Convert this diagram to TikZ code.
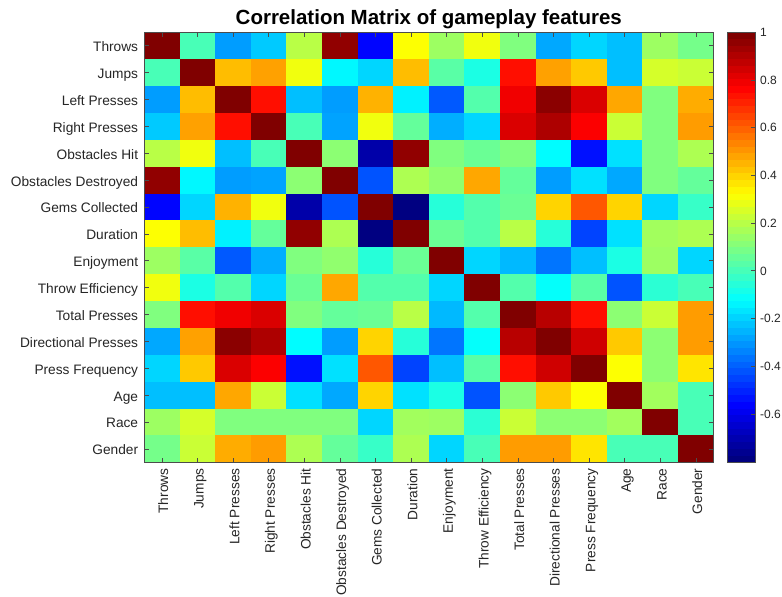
\documentclass[tikz,border=0pt]{standalone}
\usepackage{fontspec}
\setmainfont{Liberation Sans}

% jet colour map over the data range [-0.803, 1]
\newcommand\jetset[2]{%
  \pgfmathsetmacro\jt{max(0,min(1,(#1+0.803)/1.803))}%
  \pgfmathsetmacro\jr{max(0,min(1,min(4*\jt-1.5,4.5-4*\jt)))}%
  \pgfmathsetmacro\jg{max(0,min(1,min(4*\jt-0.5,3.5-4*\jt)))}%
  \pgfmathsetmacro\jb{max(0,min(1,min(4*\jt+0.5,2.5-4*\jt)))}%
  \definecolor{#2}{rgb}{\jr,\jg,\jb}}

\definecolor{labc}{gray}{0.15}
\definecolor{framec}{gray}{0.3}

\begin{document}
\begin{tikzpicture}[x=1pt,y=-1pt,
  ticklab/.style={text=labc,font=\fontsize{13.7}{16}\selectfont,inner sep=0pt},
  barlab/.style={text=labc,font=\fontsize{12}{14}\selectfont,inner sep=0pt,anchor=base west},
  tickmark/.style={draw=framec,line width=0.6pt},
  frame/.style={draw=framec,line width=0.7pt}]
\useasboundingbox (0,0) rectangle (782,597);
\fill[white] (0,0) rectangle (782,597);

\def\L{144}\def\T{32.3}\def\W{35.6}\def\H{26.875}
\def\R{713.6}\def\B{462.3}

% correlation cells
\foreach \rowvals [count=\i] in {
 {1,0.0,-0.3,-0.22,0.2,0.97,-0.57,0.32,0.15,0.3,0.1,-0.28,-0.2,-0.24,0.15,0.08},
 {0.0,1,0.44,0.49,0.3,-0.14,-0.2,0.44,0.03,-0.08,0.75,0.49,0.42,-0.24,0.25,0.23},
 {-0.3,0.44,1,0.75,-0.24,-0.3,0.46,-0.15,-0.42,0.02,0.8,0.98,0.84,0.48,0.1,0.47},
 {-0.22,0.49,0.75,1,0.0,-0.29,0.3,0.05,-0.27,-0.2,0.84,0.92,0.78,0.23,0.1,0.5},
 {0.2,0.3,-0.24,0.0,1,0.12,-0.73,0.97,0.1,0.06,0.1,-0.13,-0.55,-0.18,0.1,0.18},
 {0.97,-0.14,-0.3,-0.29,0.12,1,-0.43,0.18,0.13,0.48,0.05,-0.3,-0.18,-0.28,0.1,0.05},
 {-0.57,-0.2,0.46,0.3,-0.73,-0.43,1,-0.8,-0.06,0.02,0.06,0.4,0.62,0.4,-0.2,-0.03},
 {0.32,0.44,-0.15,0.05,0.97,0.18,-0.8,1,0.06,0.02,0.2,-0.06,-0.46,-0.18,0.16,0.18},
 {0.15,0.03,-0.42,-0.27,0.1,0.13,-0.06,0.06,1,-0.2,-0.25,-0.37,-0.24,-0.08,0.15,-0.2},
 {0.3,-0.08,0.02,-0.2,0.06,0.48,0.02,0.02,-0.2,1,0.02,-0.12,0.03,-0.43,-0.05,0.0},
 {0.1,0.75,0.8,0.84,0.1,0.05,0.06,0.2,-0.25,0.02,1,0.9,0.75,0.12,0.23,0.5},
 {-0.28,0.49,0.98,0.92,-0.13,-0.3,0.4,-0.06,-0.37,-0.12,0.9,1,0.86,0.42,0.12,0.5},
 {-0.2,0.42,0.84,0.78,-0.55,-0.18,0.62,-0.46,-0.24,0.03,0.75,0.86,1,0.32,0.12,0.37},
 {-0.24,-0.24,0.48,0.23,-0.18,-0.28,0.4,-0.18,-0.08,-0.43,0.12,0.42,0.32,1,0.16,0.0},
 {0.15,0.25,0.1,0.1,0.1,0.1,-0.2,0.16,0.15,-0.05,0.23,0.12,0.12,0.16,1,0.0},
 {0.08,0.23,0.47,0.5,0.18,0.05,-0.03,0.18,-0.2,0.0,0.5,0.5,0.37,0.0,0.0,1}} {
  \foreach \v [count=\j] in \rowvals {
    \jetset{\v}{cellc}
    \fill[cellc] ({\L+(\j-1)*\W},{\T+(\i-1)*\H})
      rectangle ({\L+\j*\W+0.4},{\T+\i*\H+0.4});
  }
}

% axes box and inward ticks
\draw[frame] (\L,\T) rectangle (\R,\B);
\foreach \k in {1,...,16} {
  \draw[tickmark] ({\L+(\k-0.5)*\W},\T) -- ++(0,4.5);
  \draw[tickmark] ({\L+(\k-0.5)*\W},\B) -- ++(0,-4.5);
  \draw[tickmark] (\L,{\T+(\k-0.5)*\H}) -- ++(4.5,0);
  \draw[tickmark] (\R,{\T+(\k-0.5)*\H}) -- ++(-4.5,0);
}

% feature names
\foreach \name [count=\k] in {Throws,Jumps,Left Presses,Right Presses,Obstacles Hit,
  Obstacles Destroyed,Gems Collected,Duration,Enjoyment,Throw Efficiency,Total Presses,
  Directional Presses,Press Frequency,Age,Race,Gender} {
  \node[ticklab,anchor=base east] (rl\k) at (138.3,{\T+(\k-0.5)*\H+6}) {\name};
  \node[ticklab,anchor=base east,rotate=90] (cl\k) at ({\L+(\k-0.5)*\W+6.3},468.3) {\name};
}

% colour bar
\foreach \k in {0,...,63} {
  \pgfmathsetmacro\cv{-0.803+1.803*\k/63}
  \jetset{\cv}{barc}
  \fill[barc] (727,{\B-(\k+1)*6.71875-0.4}) rectangle (755,{\B-\k*6.71875});
}
\draw[frame] (727,\T) rectangle (755,\B);
\foreach \v/\lab [count=\k] in {1/1,0.8/0.8,0.6/0.6,0.4/0.4,0.2/0.2,0/0,-0.2/-0.2,-0.4/-0.4,-0.6/-0.6} {
  \pgfmathsetmacro\yy{\T+(1-\v)/1.803*430}
  \draw[tickmark] (755,\yy) -- ++(-4,0);
  \node[barlab] (cb\k) at (760,{\yy+4.3}) {\lab};
}

% title
\node[anchor=base,inner sep=0pt,font=\fontsize{20.5}{24}\bfseries] (title) at (428.8,24.3)
  {Correlation Matrix of gameplay features};
\end{tikzpicture}
\end{document}
